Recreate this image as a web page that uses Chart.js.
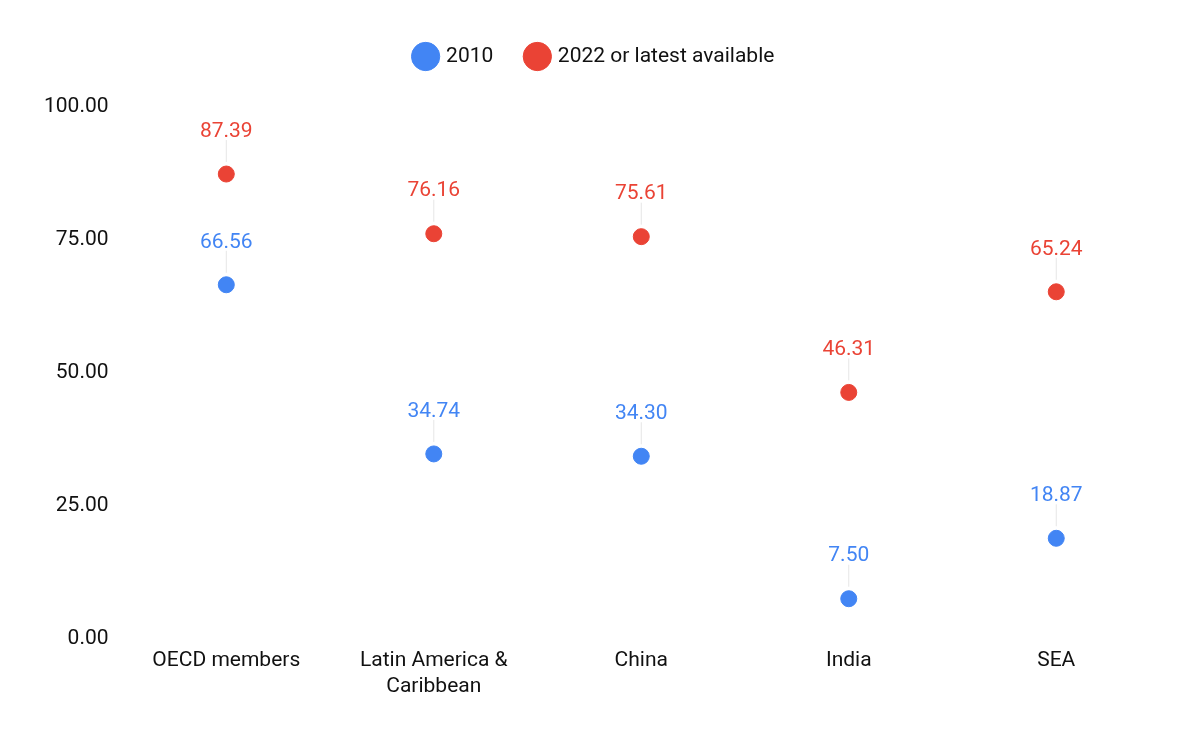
<!DOCTYPE html>
<html>
<head>
<meta charset="utf-8">
<script src="https://cdn.jsdelivr.net/npm/chart.js@4"></script>
<style>
body{margin:0;background:#fff;}
#wrap{width:1200px;height:742px;}
</style>
</head>
<body>
<div id="wrap"><canvas id="chart"></canvas></div>
<script>
var categories = [['OECD members'], ['Latin America &', 'Caribbean'], ['China'], ['India'], ['SEA']];
var values2010 = [66.56, 34.74, 34.30, 7.50, 18.87];
var values2022 = [87.39, 76.16, 75.61, 46.31, 65.24];
var yTicks = [0, 25, 50, 75, 100];

// labels above each point with a faint leader line
var pointLabels = {
    id: 'pointLabels',
    afterDatasetsDraw: function (chart) {
        var ctx = chart.ctx;
        chart.data.datasets.forEach(function (ds, i) {
            chart.getDatasetMeta(i).data.forEach(function (pt, j) {
                ctx.save();
                ctx.strokeStyle = '#e6e6e6';
                ctx.lineWidth = 1;
                ctx.beginPath();
                ctx.moveTo(pt.x, pt.y - 12);
                ctx.lineTo(pt.x, pt.y - 34);
                ctx.stroke();
                ctx.fillStyle = ds.borderColor;
                ctx.font = '21px Roboto';
                ctx.textAlign = 'center';
                ctx.textBaseline = 'bottom';
                ctx.fillText(ds.data[j].toFixed(2), pt.x, pt.y - 32);
                ctx.restore();
            });
        });
    }
};

// extra space under the legend
var legendGap = {
    id: 'legendGap',
    beforeInit: function (chart) {
        var fit = chart.legend.fit;
        chart.legend.fit = function () {
            fit.bind(chart.legend)();
            this.height += 30;
        };
    }
};

new Chart(document.getElementById('chart').getContext('2d'), {
    type: 'line',
    data: {
        labels: categories,
        datasets: [{
            label: '2010',
            data: values2010,
            showLine: false,
            backgroundColor: '#4285f4',
            borderColor: '#4285f4',
            pointRadius: 8,
            pointHoverRadius: 8
        }, {
            label: '2022 or latest available',
            data: values2022,
            showLine: false,
            backgroundColor: '#ea4335',
            borderColor: '#ea4335',
            pointRadius: 8,
            pointHoverRadius: 8
        }]
    },
    options: {
        responsive: true,
        maintainAspectRatio: false,
        animation: false,
        layout: {padding: {left: 30, right: 40, top: 12, bottom: 33}},
        plugins: {
            legend: {
                labels: {
                    usePointStyle: true,
                    pointStyle: 'circle',
                    boxWidth: 20,
                    boxHeight: 20,
                    padding: 34,
                    color: '#111',
                    font: {family: 'Roboto', size: 21}
                }
            },
            tooltip: {enabled: false}
        },
        scales: {
            x: {
                offset: true,
                grid: {display: false, drawTicks: false},
                border: {display: false},
                ticks: {color: '#111', font: {family: 'Roboto', size: 21}, padding: 10, maxRotation: 0}
            },
            y: {
                min: 0,
                max: 100,
                afterBuildTicks: function (axis) {
                    axis.ticks = yTicks.map(function (v) { return {value: v}; });
                },
                grid: {display: false, drawTicks: false},
                border: {display: false},
                ticks: {
                    color: '#111',
                    font: {family: 'Roboto', size: 21},
                    padding: 14,
                    callback: function (v) { return v.toFixed(2); }
                }
            }
        }
    },
    plugins: [pointLabels, legendGap]
});
</script>
</body>
</html>
